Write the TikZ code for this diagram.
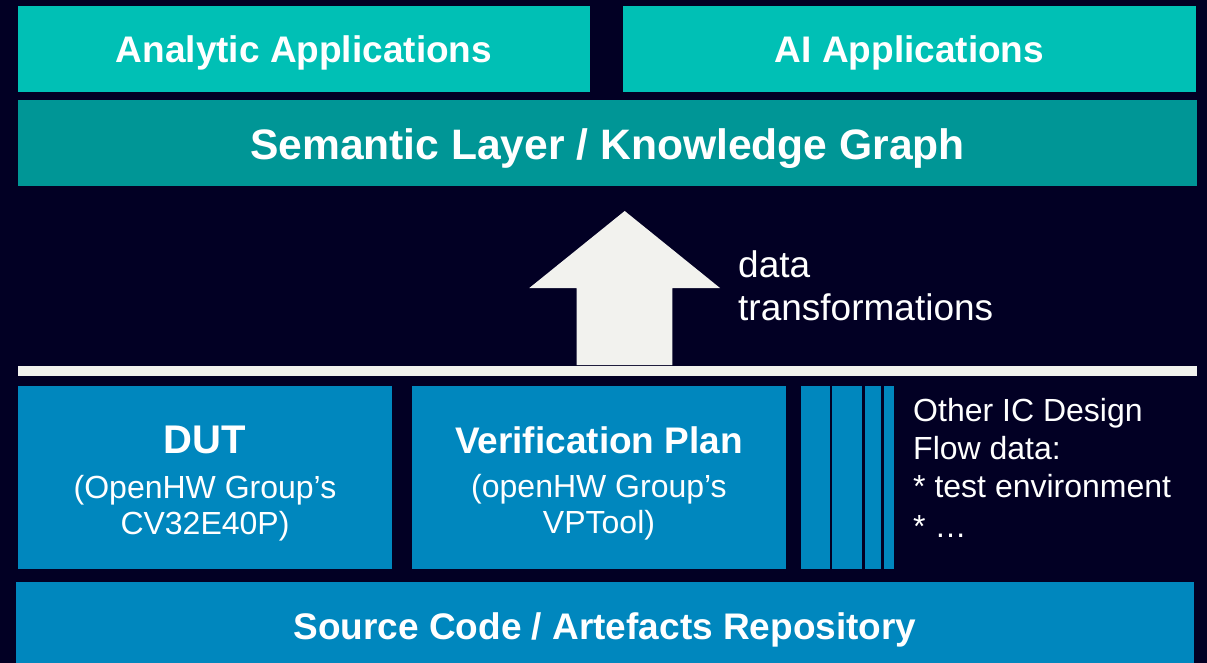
\documentclass[tikz,border=0pt]{standalone}
\usepackage{fontspec}
\setmainfont{Liberation Sans}
\definecolor{night}{RGB}{2,0,36}
\definecolor{turq}{RGB}{0,192,181}
\definecolor{deepteal}{RGB}{0,150,150}
\definecolor{ocean}{RGB}{0,135,190}
\definecolor{paper}{RGB}{242,242,238}
\begin{document}
\begin{tikzpicture}[x=1pt,y=-1pt,
  panel/.style={fill=#1,draw=none,inner sep=0pt,outer sep=0pt,anchor=north west},
  big/.style={text=white,inner sep=0pt,anchor=base,font=\bfseries\fontsize{37}{44}\selectfont},
  small/.style={text=white,inner sep=0pt,anchor=base,font=\fontsize{32}{38}\selectfont},
  note/.style={text=white,inner sep=0pt,anchor=base west,font=\fontsize{32}{38}\selectfont}]
  % canvas
  \fill[night] (0,0) rectangle (1207,663);
  \useasboundingbox (0,0) rectangle (1207,663);

  % application layer
  \node[panel=turq,minimum width=572pt,minimum height=86pt] (ana) at (18,6) {};
  \node[big] (anaT) at ([yshift=-13.3pt]ana.center) {Analytic Applications};
  \node[panel=turq,minimum width=573pt,minimum height=86pt] (ai) at (623,6) {};
  \node[big] (aiT) at ([yshift=-13.3pt]ai.center) {AI Applications};

  % semantic layer
  \node[panel=deepteal,minimum width=1179pt,minimum height=86pt] (sem) at (18,100) {};
  \node[big,font=\bfseries\fontsize{42.6}{50}\selectfont] (semT) at ([yshift=-17pt]sem.center) {Semantic Layer / Knowledge Graph};

  % transformation arrow and separator bar
  \fill[paper] (18,366) rectangle (1197,376);
  \coordinate (arrbase) at (624.5,365);
  \fill[paper] (576.7,365) -- (576.7,288) -- (529.3,288) -- (624.7,211)
     -- (720,288) -- (672.3,288) -- (672.3,365) -- cycle;
  \node[note,font=\fontsize{37}{44}\selectfont] (dt1) at (738,277) {data};
  \node[note,font=\fontsize{37}{44}\selectfont] (dt2) at (738,320) {transformations};

  % data sources
  \node[panel=ocean,minimum width=374pt,minimum height=183pt] (dut) at (18,386) {};
  \node[big,font=\bfseries\fontsize{40}{48}\selectfont] (dutT) at (205,453) {DUT};
  \node[small] (dut1) at (205,498) {(OpenHW Group’s};
  \node[small] (dut2) at (205,534) {CV32E40P)};

  \node[panel=ocean,minimum width=374pt,minimum height=183pt] (vp) at (412,386) {};
  \node[big] (vpT) at (599,453) {Verification Plan};
  \node[small] (vp1) at (599,497) {(openHW Group’s};
  \node[small] (vp2) at (599,533) {VPTool)};

  % further flow data, shown as thin strips
  \node[panel=ocean,minimum width=29pt,minimum height=183pt] (s1) at (801,386) {};
  \node[panel=ocean,minimum width=30pt,minimum height=183pt] (s2) at (832,386) {};
  \node[panel=ocean,minimum width=16pt,minimum height=183pt] (s3) at (865,386) {};
  \node[panel=ocean,minimum width=10pt,minimum height=183pt] (s4) at (884,386) {};
  \node[note] (o1) at (913,421) {Other IC Design};
  \node[note] (o2) at (913,459) {Flow data:};
  \node[note] (o3) at (913,497) {* test environment};
  \node[note] (o4) at (913,537) {* …};

  % repository
  \node[panel=ocean,minimum width=1178pt,minimum height=81pt] (repo) at (16,582) {};
  \node[big] (repoT) at ([yshift=-16.5pt]repo.center) {Source Code / Artefacts Repository};
\end{tikzpicture}
\end{document}
